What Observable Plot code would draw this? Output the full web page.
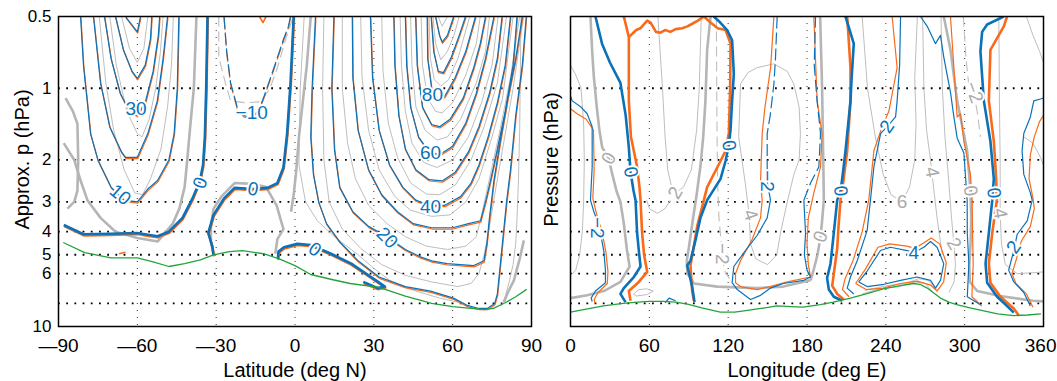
<!DOCTYPE html>
<html><head><meta charset="utf-8">
<script src="https://cdn.jsdelivr.net/npm/d3@7"></script>
<script src="https://cdn.jsdelivr.net/npm/@observablehq/plot@0.6"></script>
<style>
body{margin:0;background:#fff;}
#wrap{position:relative;width:1057px;height:381px;overflow:hidden;background:#fff;}
#wrap svg{position:absolute;top:0;overflow:visible;}
</style></head><body><div id="wrap"></div>
<script>
// ---------- axes ----------
const pTicks = [0.5, 1, 2, 3, 4, 5, 6, 8, 10];
const pGrid = [1, 2, 3, 4, 5, 6, 8];
const latTicks = [-90, -60, -30, 0, 30, 60, 90];
const latGrid = [-60, -30, 0, 30, 60];
const lonTicks = [0, 60, 120, 180, 240, 300];
const lonLastTick = [360];
const lonGrid = [60, 120, 180, 240, 300];

// ---------- left panel (latitude, pressure) ----------
const latGreen = [[-88,4.45],[-80,4.9],[-70,5.15],[-60,5.15],[-54,5.35],[-48,5.6],[-42,5.45],[-36,5.25],[-31,5.0],[-25,4.85],[-20,4.8],[-12,4.95],[-6,5.2],[0,5.55],[6,6.05],[14,6.35],[21,6.6],[32,6.85],[42,7.45],[52,8.0],[60,8.25],[67,8.4],[72,8.5],[75.5,8.4],[80,7.95],[84,7.5],[88,7.0]];

const latBlueThick = [
  [[-33.3,0.5],[-33.8,1],[-34.3,1.6],[-35,2.1],[-36.2,2.45],[-39,2.9],[-42.8,3.5],[-48,4.0],[-52.3,4.18],[-56,4.12],[-60,4.05],[-70,4.08],[-80.5,4.1],[-88,3.75]],
  [[-0.5,0.5],[-1.7,0.95],[-3,1.55],[-4.4,2.15],[-6.7,2.5],[-10.5,2.62],[-16,2.65],[-23,2.62],[-27,2.9],[-31,3.4],[-33,4.05],[-31.5,4.6],[-31,5.02]],
  [[-6.5,5.2],[-6.3,4.85],[-4.2,4.65],[0.9,4.5],[6,4.55],[13.7,4.95],[21.4,5.45],[27,6.0],[31.6,6.5],[34.2,6.8],[31.5,6.9],[26,6.5]]
];
const latBlueThin = [
  [[-81.6,0.5],[-80.5,0.8],[-79.8,0.95],[-77.8,1.55],[-75,2.0],[-70,2.6],[-65,2.95],[-60,3.0],[-56,2.65],[-52.3,2.44],[-48,2.0],[-46,1.55],[-44.8,1.0],[-44.2,0.5]],
  [[-76.7,0.5],[-74,0.95],[-70.5,1.45],[-66,1.85],[-64.5,1.95],[-60,1.95],[-56,1.55],[-52.4,1.13],[-50.2,0.75],[-48.5,0.5]],
  [[-72.5,0.5],[-70,0.75],[-66.5,1.05],[-63,1.25],[-60,1.3],[-57,1.15],[-54,0.85],[-52,0.6],[-51.5,0.5]],
  [[-68.3,0.5],[-65.3,0.69],[-62,0.85],[-60,0.91],[-57,0.8],[-55,0.62],[-54.5,0.5]],
  [[-64.5,0.5],[-60,0.58],[-58.8,0.5]],
  [[7.8,0.5],[6.5,1],[6,1.6],[7,2.3],[9,3],[12,3.7],[17,4.4],[24,5.3],[32,6.2],[42,6.8],[51.6,7.1],[60.3,7.6],[65.5,8.15],[70,8.4],[73.2,8.4],[76,8.0],[77,7.3],[78.5,5],[80.5,3],[82,2.2],[84,1.3],[86.5,0.8],[88,0.5]],
  [[14.8,0.5],[14,1],[15,1.8],[17,2.6],[22,3.3],[28,3.8],[35,4.2],[42,4.75],[47.7,5.1],[52,5.3],[57.9,5.45],[63,5.5],[68,5.55],[71.9,5.3],[73,4.5],[74,3.5],[75.7,2.44],[78,1.7],[81,1.1],[84,0.75],[86.5,0.5]],
  [[21.8,0.5],[22,0.9],[24,1.5],[28,2.2],[33,2.8],[39,3.3],[45,3.7],[52,3.85],[60,3.85],[66,3.7],[70.6,3.6],[72.5,3.0],[74.4,2.44],[77,1.8],[80,1.25],[83,0.8],[84.5,0.5]],
  [[28.7,0.5],[29.5,0.9],[32,1.5],[36,2.1],[41,2.6],[46,2.95],[51,3.1],[57,3.1],[63,2.85],[67,2.5],[70,2.1],[73.5,1.6],[77,1.15],[80,0.8],[82,0.5]],
  [[37.6,0.5],[38,0.8],[39.5,1.3],[42,1.8],[46,2.2],[51,2.42],[56,2.45],[61,2.25],[66,1.85],[70,1.45],[74,1.05],[77,0.75],[78.8,0.5]],
  [[42,0.5],[42.5,0.8],[44,1.2],[47,1.6],[51,1.85],[55,1.9],[60,1.75],[65,1.4],[69,1.05],[72.5,0.75],[75.7,0.5]],
  [[45.9,0.5],[46.5,0.8],[48.5,1.2],[52,1.42],[55,1.45],[59,1.35],[64,1.1],[68,0.82],[70.5,0.65],[72.5,0.5]],
  [[50.3,0.5],[50.5,0.75],[52,1.0],[54.5,1.12],[57,1.08],[61,0.9],[65,0.7],[68.7,0.5]],
  [[51.8,0.5],[52.8,0.7],[54.5,0.85],[56.5,0.86],[59.5,0.74],[62.5,0.6],[64.9,0.5]],
  [[53.5,0.5],[55,0.6],[56,0.64],[58,0.6],[60.4,0.5]]
];
const latBlueDashed = [
  [[-27,0.5],[-26,0.7],[-24.5,0.95],[-22,1.2],[-19.5,1.3],[-17,1.33],[-14,1.25],[-12,1.1],[-8,0.82],[-4.3,0.62],[-2.5,0.55],[-1.7,0.5]]
];
const latOrangeExtra = [
  [[-67,4.95],[-64.5,4.88]],
  [[-13.5,0.5],[-12.2,0.53],[-11,0.5]]
];
const latGrayThick = [
  [[-87.3,1.1],[-84.5,1.25],[-82.8,1.41],[-82.5,2],[-82.8,2.69],[-84,3.0],[-86.6,3.2]],
  [[-88,1.7],[-84,2.0],[-81.6,2.44],[-79,2.95],[-74,3.5],[-68.3,4.0],[-60,4.25],[-52.3,4.4],[-46.5,3.7],[-44,3.2],[-42,2.6],[-41,2.0],[-40,1.5],[-38.5,1],[-37.5,0.5]],
  [[-31,5.0],[-32,4.4],[-32,3.8],[-31,3.2],[-28,2.85],[-23,2.5],[-16,2.52],[-11,2.6],[-7,3.1],[-4.4,3.9],[-6.7,4.3],[-7.5,4.95]],
  [[6,0.5],[4.5,0.8],[3,1.13],[1.5,1.6],[0.5,2.2],[-0.5,2.8],[-1.5,3.3]],
  [[79.5,7.9],[81,7.2],[83.3,6.4],[85.5,5.2],[87.1,4.35]]
];
const latGrayThin = [
  [[-66,0.5],[-63,0.68],[-60,0.78],[-57.5,0.68],[-56,0.5]],
  [[-70.5,0.5],[-68,0.8],[-64,1.25],[-60,1.55],[-58.2,1.6],[-55.5,1.35],[-53,1.0],[-51.2,0.7],[-50.2,0.5]],
  [[-74.5,0.5],[-72,0.95],[-69,1.5],[-65,2.2],[-61,2.75],[-58,2.8],[-55,2.4],[-51,1.8],[-48.5,1.2],[-47,0.8],[-46.3,0.5]],
  [[54.5,0.5],[56,0.55],[58,0.5]],
  [[52.5,0.5],[53.5,0.65],[55.5,0.76],[58,0.7],[60.5,0.6],[62.5,0.5]],
  [[51,0.5],[51.5,0.75],[53,0.92],[55.5,0.98],[58.5,0.92],[62,0.75],[66.5,0.5]],
  [[48,0.5],[48.5,0.8],[50.5,1.1],[53.5,1.25],[56,1.27],[60,1.15],[65,0.88],[69,0.65],[70.5,0.5]],
  [[44,0.5],[44.5,0.8],[46,1.2],[49.5,1.5],[54,1.65],[58,1.6],[63,1.35],[69,0.95],[72.5,0.7],[74,0.5]],
  [[40,0.5],[40.5,0.8],[42,1.25],[44.5,1.7],[49,2.05],[54,2.15],[60,2.0],[66,1.6],[71,1.15],[75,0.8],[77.3,0.5]],
  [[33,0.5],[33.5,0.85],[35.5,1.4],[39,1.95],[44,2.5],[50,2.78],[55,2.8],[61,2.55],[67,2.0],[72,1.45],[77,0.95],[80.5,0.5]],
  [[25,0.5],[25.5,0.9],[28,1.5],[32,2.2],[38,2.85],[44,3.25],[52,3.45],[59,3.4],[65,3.0],[70,2.4],[75,1.6],[79,1.1],[83,0.5]],
  [[18,0.5],[18,1],[20,1.7],[23,2.4],[28,3.1],[35,3.7],[42,4.2],[50,4.6],[58,4.75],[65,4.6],[69,4.2],[71,3.4],[74,2.4],[78,1.5],[82,0.9],[85.5,0.5]],
  [[11,0.5],[10.5,1],[11,2],[13,3],[18,3.9],[25,4.7],[33,5.5],[42,6.1],[52,6.5],[62,6.8],[67,6.6],[70,6.0],[72,5],[74,3.8],[76,2.8],[79,1.8],[83,1.0],[87,0.5]],
  [[3.5,0.5],[2,1],[1.5,2.1],[4,3],[8.5,3.6],[15,4.2],[24,5.0],[30,5.7],[36,6.4],[45,7.05],[55,7.6],[62,7.9]],
  [[86,0.5],[85.5,1.5],[85,2.5],[84.5,3.5],[84,4.5],[83,5.5],[81.5,6.5],[80,7.5],[78.5,8.2]]
];
const latGrayDashed = [
  [[-29,0.5],[-29,0.74],[-26.5,0.95],[-24.5,1.13],[-19,1.15],[-13.1,1.14],[-9.5,1.0],[-6.7,0.82],[-3.5,0.62],[-0.6,0.5]]
];
// [x, p, text, rotation]
const latLabels = [
  [-60.5,1.22,"30",0],[-66.5,2.8,"10",40],[-36,2.5,"0",-70],[-16,2.65,"0",10],[7.5,4.75,"0",35],
  [-16.5,1.27,"\u221210",0],[52.3,1.07,"80",0],[51.6,1.86,"60",0],[51.6,3.15,"40",0],[35,4.25,"20",45]
];

// ---------- right panel (longitude, pressure) ----------
const lonGreen = [[0,8.7],[12,8.45],[25,8.2],[40,8.0],[51,7.9],[60,7.85],[71,7.85],[80,7.9],[89,8.05],[100,8.35],[114,8.7],[125,8.7],[132,8.6],[145,8.4],[157,8.2],[168,8.25],[177,8.3],[190,8.1],[200,7.9],[213,7.6],[225,7.3],[238,6.95],[250,6.75],[261,6.6],[266,6.65],[271.5,6.9],[276,7.2],[281.6,7.6],[288,7.9],[294,8.1],[304,8.35],[314.6,8.6],[325,8.85],[337.4,9.0],[348,8.95],[357.7,8.85]];

const lonBlueThick = [
  [[19,0.5],[24,0.65],[30,0.78],[38,0.95],[42,1.3],[44.4,1.77],[45.7,2.25],[48,2.7],[49.5,2.95],[50.7,4.05],[52,4.8],[53.3,5.6],[48.2,6.2],[40.6,6.9],[38,7.3],[41.9,7.9]],
  [[109,0.5],[114,0.53],[119.2,0.57],[123,0.63],[124.3,0.87],[123,1.13],[121.8,1.5],[120.5,1.74],[118,2.02],[114.2,2.4],[104,2.95],[98.9,3.5],[95.1,4.35],[91.3,5.3],[88.8,5.55],[90,5.9],[92.6,6.8],[94.4,7.9]],
  [[209.3,0.5],[215.6,0.65],[214,0.9],[213.1,1.13],[209.3,1.83],[206.8,2.4],[205.5,2.7],[203,2.95],[200.4,4.05],[197.9,5.45],[195.3,6.25],[196.6,7.0],[200.4,7.5],[206.8,7.8]],
  [[329.8,0.5],[317.1,0.54],[313.3,0.58],[312,0.7],[314.6,1.13],[319.6,1.67],[322.2,2.4],[321,2.95],[318.4,4.05],[315.9,5.45],[317.1,6.55],[324.7,7.5],[332.3,8.2],[337.4,8.75]]
];
const lonOrangeThick = [
  [[40.6,0.5],[44.4,0.61],[44.4,1.13],[46,1.6],[50.7,2.14],[52.5,2.6],[53.3,2.95],[54.5,4.05],[56,5],[58.4,5.9],[52,6.5],[44.4,7.1],[45.7,7.8]],
  [[44.4,0.61],[50,0.57],[53.3,0.56],[58.4,0.52],[61,0.53],[65,0.58],[68.5,0.585],[72,0.57],[76,0.58],[80,0.565],[85,0.56],[89,0.55],[93,0.535],[97,0.52],[101.5,0.5],[106.6,0.53],[112,0.56],[118,0.57],[121.8,0.65],[121.5,1],[120.5,1.55],[118,1.83],[114.2,2.02],[104,2.6],[101.5,2.95],[96.4,3.8],[93.9,4.6],[91.3,5.55],[92.6,7.1],[93.9,7.8]],
  [[210.6,0.5],[213.1,0.82],[213.1,1.13],[210.6,1.83],[207.5,2.5],[205.5,2.95],[204,3.8],[203,4.7],[200.4,6.0],[199.2,6.75],[203,7.3],[208,7.7]],
  [[332.3,0.5],[329.8,0.55],[319.6,0.69],[318.4,1.13],[322.2,1.67],[324,2.4],[324.5,2.95],[321,4.05],[318.4,5.45],[319.6,6.55],[327.3,7.5],[337.4,8.4],[341.2,9.0]]
];
const lonBlueThin = [
  [[0,1.08],[1.3,1.13],[8,1.2],[12.7,1.28],[16.5,1.45],[16.5,2.14],[15.2,2.95],[17.8,3.3],[20.3,3.6],[22.8,4.05],[25.4,4.85],[26.6,5.8],[26.6,6.55],[19,7.1],[15.7,7.6],[16.5,7.85]],
  [[152.2,2.95],[149.7,3.5],[142,4.15],[132,4.9],[124.3,5.6],[123,6.55],[126.9,7.0],[137,7.7],[144.6,7.4],[152.2,6.9],[162,6.6],[177.6,6.4],[182.7,6.2],[180,5.8],[178,5.0],[178.9,4.05],[177.6,2.95]],
  [[251.2,0.5],[250.5,0.8],[248.6,1.13],[247.4,1.32],[241,1.45],[236,1.55],[230.9,2.14],[228.3,2.95],[225.8,3.95],[218.2,5.3],[213.1,6.2],[210.6,6.9],[215.6,7.3]],
  [[219.4,6.5],[225.8,5.85],[235.9,4.8],[243.5,4.65],[256.2,4.8],[261.3,4.9],[268.9,4.65],[274,4.4],[279,4.65],[284.1,5.45],[281.6,6.4],[277.8,6.9],[274,6.4],[263.8,6.2],[251.2,6.4],[238.5,6.65],[225.8,6.8],[219.4,6.5]],
  [[266.4,0.5],[271.5,0.55],[277.8,0.65],[281.6,0.6],[284.1,0.74],[289.2,1.04],[291.8,1.32],[294.3,1.62],[299.4,1.87],[301.9,2.95],[302,4.05],[303.2,5.45],[302,7.5],[312,8.1]],
  [[360,1.1],[357.7,1.11],[352.6,1.13],[350,1.32],[345,1.55],[343.7,1.83],[345,2.3],[350,2.75],[351.4,2.95],[347.6,3.6],[340,4.1],[337.4,4.8],[333.5,5.8],[337.4,6.5],[345,7.2],[350,8.2]],
  [[72,7.95],[75,7.6],[80,7.8]]
];
const lonBlueDashed = [
  [[157.3,0.5],[156,0.75],[154.8,0.96],[152,1.3],[149.7,1.55],[149.7,2.45],[152.2,2.95]],
  [[177.6,2.95],[182.7,2.5],[189,2.14],[190.3,1.55],[187.7,1.13],[185.5,0.8],[186.5,0.5]]
];
const lonOrangeThin = [
  [[0,1.22],[5,1.28],[12,1.35],[17.5,1.5],[18,2.2],[17,2.9],[20,3.4],[24,4.0],[27,4.9],[28.5,5.9],[28,6.6],[21,7.2],[18,7.7],[18.5,8.0]],
  [[154.8,0.5],[152.3,0.82],[148,1.2],[145.9,1.55],[144.6,2.5],[145.9,2.95],[144.6,3.5],[138.3,4.3],[129.4,5.3],[125.6,6.0],[125.6,6.55],[129.4,6.8],[142,7.0],[152,6.8],[165,6.5],[182.7,6.2],[181,5.5],[180,4.5],[181,3.5],[185.2,2.75],[190.3,2.14],[191.5,1.55],[187.7,1.13],[185.2,0.5]],
  [[244.8,0.5],[248.6,0.82],[242.3,1.25],[237.2,1.45],[230.9,1.83],[227,2.95],[222,4.0],[215,5.3],[209,6.3],[207,7.0],[212,7.5]],
  [[217,6.6],[224,5.8],[234,4.65],[243,4.5],[256,4.6],[262,4.7],[269,4.45],[274.5,4.25],[281,4.5],[286,5.4],[284,6.5],[279,7.1],[274,6.7],[264,6.45],[251,6.6],[238,6.9],[225,7.0],[217,6.6]],
  [[289.2,0.5],[291.8,0.82],[294.3,1.32],[296.8,1.28],[299.4,1.67],[304.4,2.3],[305.7,2.95],[306,4.05],[306.5,5.45],[305.5,7.5],[313,8.2]],
  [[360,1.3],[357,1.38],[353,1.6],[350,1.9],[349,2.4],[352,2.9],[353,3.2],[350,3.8],[343,4.4],[339,5.3],[336,6.0],[339,6.6],[347,7.3],[352,8.3]]
];
const lonGrayThick = [
  [[15.2,0.5],[16.5,0.7],[17.8,0.9],[20,1.2],[22,1.5],[24.1,1.77],[29.2,1.97],[31,2.2],[35,2.7],[38,3.0],[40.6,3.7],[43,4.8],[45,5.6],[38,6.5],[25.4,7.1],[12.7,7.4],[0,7.6]],
  [[106.6,0.5],[104,0.69],[102.7,1.13],[101,1.6],[99,2.1],[96,2.8],[93,3.6],[90.5,4.5],[88.5,5.3],[89,6.0],[94,6.6],[111.6,6.8],[142,6.9],[162,6.8],[182.7,6.4]],
  [[190,0.5],[191.5,1.0],[192,1.5],[192.5,2.2],[192.8,2.95],[191.5,3.6],[190.3,4.2],[188,5.0],[185,5.8],[182.7,6.4]],
  [[284.1,0.5],[289.2,0.69],[294.3,1.13],[301.9,1.83],[304.4,2.7],[305,3.5],[304.5,4.5],[303.5,5.5],[304,6.5],[309.5,7.1],[327,7.45],[352,7.8],[360,7.85]]
];
const lonGrayThin = [
  [[0,0.8],[4,0.88],[8,1.0],[10,1.4],[10.5,2.0],[10,3.0],[9,4.0],[7,5.0],[4,5.8],[0,6.1]],
  [[66.5,0.5],[70,1],[72,1.6],[74,2.2],[77,2.6],[79.9,2.75],[86,2.6],[92,2.2],[96,1.5],[98,1],[99.5,0.5]],
  [[128,1.6],[129.4,0.96],[135,0.86],[142,0.82],[154.8,0.79],[165,0.85],[170,0.96],[174,1.2],[175,1.55],[174,2],[170,2.3],[165,3],[160,4],[157,5],[150,5.5],[141,5.2],[137,4.5],[136,3.4],[133,2.5],[128,1.6]],
  [[222,0.5],[226,1.0],[232,1.6],[238,2.3],[244,2.8],[252.4,3.0],[258,2.6],[262,2.0],[263,1.4],[262,0.9],[264,0.5]],
  [[268,0.5],[269,1.0],[271,1.5],[274,2.0],[275,2.25],[277,2.8],[279,3.5],[281,4.2],[283,5.0]],
  [[282,0.5],[283,1.0],[285,1.6],[288,2.5],[290,3.5],[291.8,4.5],[293,5.5],[292,6.5],[288,7.2]],
  [[326,0.5],[326.5,1.2],[327,2],[327,3.35],[328,4.5],[331,5.5],[340,6.0],[352,5.95],[360,5.9]],
  [[347,0.5],[352,0.6],[357,0.7],[360,0.78]],
  [[345,1.6],[352,1.7],[357.7,1.95],[360,2.1]],
  [[222,7.3],[235,6.95],[250,6.8],[262,6.5],[270,6.6],[276,7.2]],
  [[224,7.05],[240,6.75],[255,6.6],[265,6.3],[272,6.4],[279,7.0]],
  [[48,7.3],[52,7.0],[58,6.95],[63,7.1],[58,7.35],[50,7.45],[48,7.3]],
  [[58,2.95],[60,3.2],[66,3.35],[72,3.2],[76,2.95]]
];
const lonGrayDashed = [
  [[111,0.5],[111.5,1.5],[112,2.5],[113,3.5],[115.4,4.95],[117,5.8],[121,6.3]],
  [[299,0.5],[301,0.75],[303,0.95],[307,1.04],[310,1.3],[312,1.6]]
];
const lonLabels = [
  [45.7,2.25,"0",80],[120.5,1.74,"0",80],[205.5,2.7,"0",85],[322.2,2.75,"0",85],
  [20.3,3.85,"\u22122",90],[149.7,2.45,"\u22122",90],[241,1.45,"2",-55],[337.4,4.65,"2",-55],[261.3,4.9,"4",0]
];
const lonGrayLabels = [
  [29.2,1.97,"0",-60],[79.9,2.75,"2",-60],[137,3.4,"4",70],[115.4,4.95,"\u22122",90],[252.4,3.0,"6",0],
  [275,2.25,"4",80],[307,1.04,"\u22122",70],[304.4,2.7,"0",80],[190.3,4.2,"0",-70],[291.8,4.5,"2",60],[327,3.35,"4",80]
];

// ---------- styling ----------
const BLUE = "#0b72b9", ORANGE = "#f96a1b", GRAY = "#b5b5b5", GRAYT = "#bebebe", GREEN = "#23a33c";
const FONT = "'Liberation Sans', Arial, Helvetica, sans-serif";
const XTICKFS = 19, YTICKFS = 17, LABELFS = 20, CLABELFS = 19;

function rows(lines, tag) {
  return lines.flatMap((pts, i) => pts.map(([x, p]) => ({x, p, id: tag + i})));
}
function lineMark(lines, tag, opts) {
  return Plot.line(rows(lines, tag), {x: "x", y: "p", z: "id", clip: true, strokeLinejoin: "round", strokeLinecap: "butt", ...opts});
}
function labelMark(labels, color) {
  return Plot.text(labels, {x: d => d[0], y: d => d[1], text: d => d[2], rotate: d => d[3],
    fill: color, stroke: "white", strokeWidth: 4, paintOrder: "stroke", fontSize: CLABELFS, fontFamily: FONT});
}
const fmt = d => d < 0 ? "\u2014" + (-d) : String(d);

const left = Plot.plot({
  width: 540, height: 381, marginLeft: 58, marginRight: 9, marginTop: 16, marginBottom: 55,
  style: {fontFamily: FONT, background: "white", overflow: "visible"},
  x: {domain: [-90, 90]},
  y: {type: "log", domain: [0.5, 10], reverse: true},
  marks: [
    Plot.ruleX(latGrid, {stroke: "#333", strokeWidth: 1, strokeDasharray: "1,6"}),
    Plot.ruleY(pGrid, {stroke: "#000", strokeWidth: 1.8, strokeDasharray: "1.8,6.4"}),
    lineMark(latGrayThin, "gt", {stroke: GRAYT, strokeWidth: 1}),
    lineMark(latGrayDashed, "gd", {stroke: GRAYT, strokeWidth: 1.1, strokeDasharray: "10,5"}),
    lineMark(latGrayThick, "gk", {stroke: GRAY, strokeWidth: 2.6}),
    lineMark(latBlueThin, "ob", {stroke: ORANGE, strokeWidth: 1.2, dy: 1.3, dx: 0.4}),
    lineMark(latBlueDashed, "od", {stroke: ORANGE, strokeWidth: 1.2, dy: 1.5, strokeDasharray: "12,4"}),
    lineMark(latBlueThick, "ok", {stroke: ORANGE, strokeWidth: 2.4, dy: 1.2, dx: 0.4}),
    lineMark(latOrangeExtra, "oe", {stroke: ORANGE, strokeWidth: 1.6}),
    lineMark(latBlueThin, "bt", {stroke: BLUE, strokeWidth: 1.2}),
    lineMark(latBlueDashed, "bd", {stroke: BLUE, strokeWidth: 1.2, strokeDasharray: "12,4"}),
    lineMark(latBlueThick, "bk", {stroke: BLUE, strokeWidth: 2.6}),
    Plot.line(latGreen, {x: d => d[0], y: d => d[1], stroke: GREEN, strokeWidth: 1.3}),
    labelMark(latLabels, BLUE),
    Plot.axisX({ticks: latTicks, tickFormat: fmt, tickSize: 0, tickPadding: 12, fontSize: XTICKFS, label: null}),
    Plot.axisY({ticks: pTicks, tickFormat: d => String(d), tickSize: 0, tickPadding: 7, fontSize: YTICKFS, label: null}),
    Plot.text(["Latitude (deg N)"], {frameAnchor: "bottom", lineAnchor: "middle", dy: 44, fontSize: LABELFS}),
    Plot.text(["Approx. p (hPa)"], {frameAnchor: "left", textAnchor: "middle", lineAnchor: "middle", dx: -36, dy: -12, rotate: -90, fontSize: LABELFS}),
    Plot.frame({stroke: "black", strokeWidth: 1.5})
  ]
});

const right = Plot.plot({
  width: 527, height: 381, marginLeft: 40, marginRight: 14, marginTop: 16, marginBottom: 55,
  style: {fontFamily: FONT, background: "transparent", overflow: "visible"},
  x: {domain: [0, 360]},
  y: {type: "log", domain: [0.5, 10], reverse: true, axis: null},
  marks: [
    Plot.ruleX(lonGrid, {stroke: "#333", strokeWidth: 1, strokeDasharray: "1,6"}),
    Plot.ruleY(pGrid, {stroke: "#000", strokeWidth: 1.8, strokeDasharray: "1.8,6.4"}),
    lineMark(lonGrayThin, "gt", {stroke: GRAYT, strokeWidth: 1}),
    lineMark(lonGrayDashed, "gd", {stroke: GRAYT, strokeWidth: 1.1, strokeDasharray: "10,5"}),
    lineMark(lonGrayThick, "gk", {stroke: GRAY, strokeWidth: 2.6}),
    lineMark(lonOrangeThin, "ot", {stroke: ORANGE, strokeWidth: 1.2}),
    lineMark(lonBlueThin, "bt", {stroke: BLUE, strokeWidth: 1.2}),
    lineMark(lonBlueDashed, "bd", {stroke: BLUE, strokeWidth: 1.2, strokeDasharray: "12,4"}),
    lineMark(lonOrangeThick, "ok", {stroke: ORANGE, strokeWidth: 2.6}),
    lineMark(lonBlueThick, "bk", {stroke: BLUE, strokeWidth: 2.6}),
    Plot.line(lonGreen, {x: d => d[0], y: d => d[1], stroke: GREEN, strokeWidth: 1.3}),
    labelMark(lonGrayLabels, "#aaaaaa"),
    labelMark(lonLabels, BLUE),
    Plot.axisX({ticks: lonTicks, tickFormat: fmt, tickSize: 0, tickPadding: 12, fontSize: XTICKFS, label: null}),
    Plot.text(lonLastTick, {x: d => d, frameAnchor: "bottom", text: d => String(d), textAnchor: "end", lineAnchor: "top", dx: 13, dy: 12, fontSize: XTICKFS}),
    Plot.text(["Longitude (deg E)"], {frameAnchor: "bottom", lineAnchor: "middle", dy: 44, fontSize: LABELFS}),
    Plot.text(["Pressure (hPa)"], {frameAnchor: "left", textAnchor: "middle", lineAnchor: "middle", dx: -19, dy: -12, rotate: -90, fontSize: LABELFS}),
    Plot.frame({stroke: "black", strokeWidth: 1.5})
  ]
});

const wrap = document.getElementById("wrap");
left.style.left = "0px";
right.style.left = "530px";
wrap.appendChild(left);
wrap.appendChild(right);
</script></body></html>
